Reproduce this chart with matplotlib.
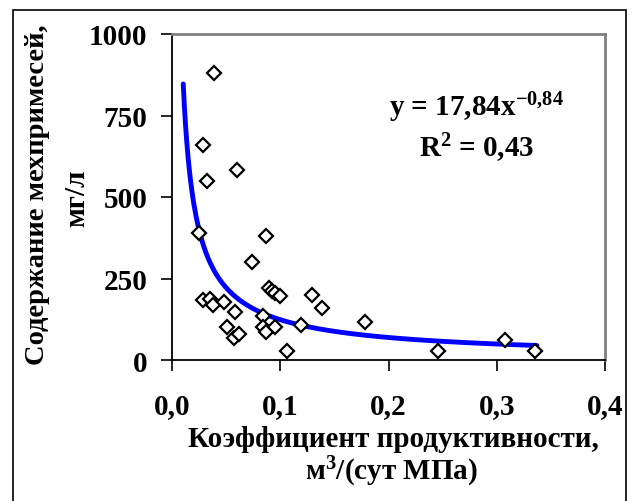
import numpy as np
import matplotlib
matplotlib.use('Agg')
import matplotlib.pyplot as plt
from matplotlib.patches import Rectangle

# fonts: bold serif like Times New Roman
plt.rcParams['font.family'] = 'Liberation Serif'
plt.rcParams['font.weight'] = 'bold'
plt.rcParams['mathtext.fontset'] = 'custom'
plt.rcParams['mathtext.rm'] = 'Liberation Serif:bold'
plt.rcParams['mathtext.it'] = 'Liberation Serif:bold'
plt.rcParams['mathtext.bf'] = 'Liberation Serif:bold'
plt.rcParams['mathtext.default'] = 'rm'

# data
prod_coef = [0.039, 0.028, 0.032, 0.060, 0.025, 0.087, 0.074, 0.028, 0.035, 0.038,
             0.048, 0.058, 0.051, 0.057, 0.062, 0.089, 0.092, 0.095, 0.100, 0.084,
             0.084, 0.087, 0.095, 0.106, 0.119, 0.129, 0.138, 0.178, 0.246, 0.308,
             0.335]
impurities = [880, 659, 549, 584, 389, 379, 300, 185, 187, 168,
              178, 148, 100, 68, 80, 221, 213, 206, 197, 134,
              100, 86, 100, 28, 108, 199, 158, 118, 28, 60,
              28]

# power trend line as printed on the chart
trend_a = 17.84
trend_b = -0.84
trend_x_range = (0.0101, 0.337)

x_ticks = [0.0, 0.1, 0.2, 0.3, 0.4]
x_tick_labels = ['0,0', '0,1', '0,2', '0,3', '0,4']
y_ticks = [0, 250, 500, 750, 1000]
y_tick_labels = ['0', '250', '500', '750', '1000']

W, H = 633, 502
fig = plt.figure(figsize=(W / 100, H / 100), dpi=100)
left, right, top, bottom = 172.3, 605, 35, 361
ax = fig.add_axes([left / W, 1 - bottom / H, (right - left) / W, (bottom - top) / H])

# trend line
tx = np.linspace(trend_x_range[0], trend_x_range[1], 300)
ax.plot(tx, trend_a * tx ** trend_b, color='#0000FF', lw=3.5, zorder=2,
        solid_capstyle='round')

# points
ax.plot(prod_coef, impurities, 'D', ms=7.5, mfc='white', mec='black', mew=1.6,
        linestyle='none', zorder=3)

ax.set_xlim(0, 0.4)
ax.set_ylim(0, 1000)
ax.set_xticks(x_ticks)
ax.set_xticklabels(x_tick_labels)
ax.set_yticks(y_ticks)
ax.set_yticklabels(y_tick_labels)
ax.tick_params(axis='both', direction='out', length=8, width=1.2, labelsize=21)
ax.tick_params(axis='x', pad=15)
ax.tick_params(axis='y', pad=10)

# set lines
ax.spines['top'].set_color('#808080')
ax.spines['right'].set_color('#808080')
ax.spines['top'].set_linewidth(2)
ax.spines['right'].set_linewidth(2)
ax.spines['left'].set_linewidth(1.3)
ax.spines['bottom'].set_linewidth(1.3)

# equation
ax.text(0.704, 0.776, 'y = 17,84x$^{-0{,}84}$', transform=ax.transAxes,
        ha='center', va='center', fontsize=21)
ax.text(0.704, 0.653, 'R$^{2}$ = 0,43', transform=ax.transAxes,
        ha='center', va='center', fontsize=21)

# axis labels, one text per line
fig.text(393 / W, 1 - 447 / H, 'Коэффициент продуктивности,',
         ha='center', va='baseline', fontsize=21)
fig.text(392 / W, 1 - 480 / H, 'м$^{3}$/(сут МПа)',
         ha='center', va='baseline', fontsize=21)
fig.text(44 / W, 1 - 195 / H, 'Содержание мехпримесей,', rotation=90,
         rotation_mode='anchor', ha='center', va='baseline', fontsize=20.5)
fig.text(84 / W, 1 - 198 / H, 'мг/л', rotation=90,
         rotation_mode='anchor', ha='center', va='baseline', fontsize=21)

# outer frame
fig.patches.append(Rectangle((13 / W, -0.02), (626 - 13) / W, (H - 11) / H + 0.02,
                             transform=fig.transFigure, fill=False, ec='black', lw=1.2))

fig.savefig('out.png', dpi=100)
